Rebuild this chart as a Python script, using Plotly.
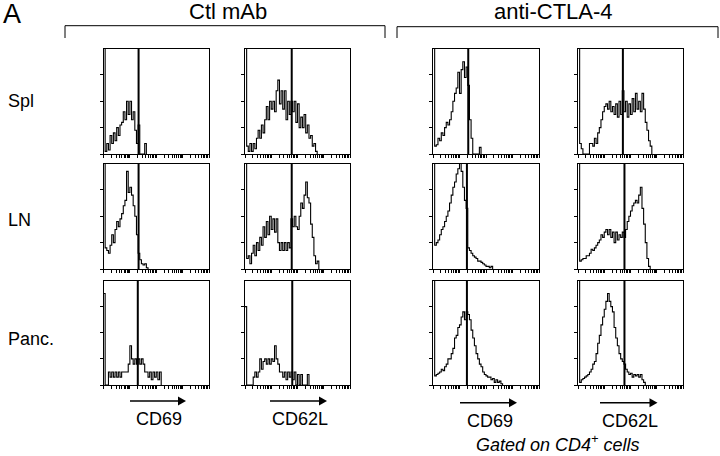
import numpy as np
import plotly.graph_objects as go

W, H = 720, 456
BIN = 0.0625  # decades per histogram channel (x axis spans 4 log decades)

# ---- histogram values (y axis 0..4 units), one list per panel ----
ctl_spl_cd69 = [5, 0.1, 0.4, 0.15, 0.7, 0.4, 0.8, 0.5, 1.0, 0.7, 1.1, 1.2, 1.6, 1.3, 2.0, 1.5,
                2.0, 1.3, 1.6, 0.9, 0.4, 1.1, 0, 0, 0, 0.4, 0]
ctl_spl_cd62l = [5, 0.3, 0.1, 0.4, 0.1, 0.4, 0.2, 0.6, 0.9, 0.6, 1.1, 0.8, 1.3, 1.8, 1.3, 2.0,
                 1.7, 2.0, 1.6, 2.4, 2.8, 1.9, 2.4, 1.7, 2.4, 1.3, 2.0, 1.5, 2.0, 1.6, 2.0, 1.2,
                 1.9, 1.0, 1.4, 1.0, 1.5, 0.8, 1.1, 0.6, 0.7, 0.3, 0.4, 0.1, 0]
anti_spl_cd69 = [5, 0.3, 0.35, 0.6, 0.5, 0.8, 0.7, 1.0, 1.2, 1.1, 1.3, 1.6, 2.0, 2.3, 2.5, 3.1,
                 2.3, 3.2, 3.5, 2.9, 3.3, 2.6, 1.3, 0.6, 0, 0, 0, 0, 0.25, 0]
anti_spl_cd62l = [5, 0.4, 0.2, 0, 0, 0, 0, 0.4, 0.4, 0.3, 0.6, 0.4, 0.8, 1.0, 1.3, 1.6, 1.8,
                  1.9, 1.7, 2.0, 1.6, 1.8, 1.5, 1.9, 1.4, 2.0, 1.5, 2.4, 1.6, 2.0, 1.4, 1.9,
                  1.5, 2.1, 1.6, 2.3, 1.7, 2.0, 1.6, 2.3, 1.7, 1.2, 0.9, 0.5, 0.3, 0]
ctl_ln_cd69 = [5, 0.8, 0.7, 0.6, 0.9, 1.3, 1.0, 1.5, 1.8, 1.6, 1.9, 2.1, 2.4, 2.6, 3.7, 2.9,
               3.1, 2.8, 2.4, 2.0, 1.3, 0.6, 0.35, 0.2, 0.15, 0.2, 0.05, 0]
ctl_ln_cd62l = [5, 0.4, 0.5, 0.2, 0.6, 0.9, 0.5, 1.0, 0.7, 1.2, 0.9, 1.6, 1.2, 1.8, 1.3, 2.0,
                1.5, 1.9, 1.4, 1.9, 1.0, 0.7, 1.0, 0.7, 1.0, 0.7, 1.0, 0.8, 1.9, 1.6, 2.0, 1.6,
                1.5, 2.0, 2.5, 2.3, 2.8, 3.3, 2.7, 2.5, 1.7, 1.2, 0.5, 0.2, 0.3, 0]
anti_ln_cd69 = [5, 0.9, 1.0, 1.1, 1.3, 1.5, 1.6, 1.8, 2.0, 2.2, 2.5, 2.8, 3.1, 3.3, 3.6, 3.8,
                4.0, 3.7, 3.1, 2.6, 2.3, 0.8, 0.7, 0.6, 0.5, 0.45, 0.4, 0.3, 0.3, 0.25, 0.2,
                0.15, 0.1, 0.1, 0.05, 0.1, 0]
anti_ln_cd62l = [5, 0.3, 0.35, 0.4, 0.4, 0.5, 0.5, 0.6, 0.75, 0.7, 0.8, 0.9, 1.0, 1.1, 1.3,
                 1.2, 1.4, 1.5, 1.3, 1.5, 1.2, 1.4, 1.0, 1.4, 1.1, 1.3, 1.2, 1.4, 1.2, 1.5, 1.8,
                 2.0, 2.2, 2.4, 2.5, 2.6, 2.5, 2.8, 3.1, 2.3, 1.7, 1.0, 0.4, 0.1, 0]
ctl_panc_cd69 = [3.5, 0, 0, 0.5, 0.3, 0.5, 0.3, 0.5, 0.3, 0.5, 0.3, 0.5, 0.5, 0.5, 0.5, 0.8,
                 1.5, 1.0, 0.8, 1.0, 0.8, 1.0, 0.8, 1.0, 0.8, 0.5, 0.5, 0.3, 0.5, 0.2, 0.5, 0.3,
                 0.5, 0.2, 0.5, 0]
ctl_panc_cd62l = [3.0, 0, 0, 0, 0, 0.3, 0.5, 0.3, 0.5, 1.0, 0.6, 0.9, 1.0, 0.8, 1.0, 0.8, 1.0,
                  0.9, 1.5, 1.0, 0.8, 0.5, 0.5, 0.3, 0.5, 0.2, 0.5, 0.3, 0.5, 0.2, 0.5, 0.0,
                  0.4, 0.0, 0.4, 0, 0, 0, 0.4, 0]
anti_panc_cd69 = [5, 0.35, 0.4, 0.45, 0.5, 0.6, 0.55, 0.7, 0.8, 1.0, 1.0, 1.2, 1.4, 1.8, 1.9,
                  2.2, 2.3, 2.6, 2.8, 2.5, 2.8, 2.7, 2.5, 2.1, 1.8, 1.5, 1.2, 1.0, 0.8, 0.7,
                  0.5, 0.4, 0.35, 0.3, 0.3, 0.2, 0.25, 0.1, 0.2, 0.1, 0.15, 0.05, 0]
anti_panc_cd62l = [5, 0.1, 0.2, 0.25, 0.3, 0.35, 0.4, 0.5, 0.6, 0.8, 0.9, 1.2, 1.6, 1.9, 2.3,
                   2.6, 2.9, 3.2, 3.5, 3.2, 3.0, 2.8, 2.2, 1.8, 1.5, 1.2, 1.0, 0.9, 0.8, 0.6,
                   0.5, 0.4, 0.45, 0.3, 0.4, 0.35, 0.4, 0.3, 0.4, 0.2, 0.1, 0]

# gate (marker) positions in decades, per row, per column
gates = [[1.33, 1.78, 1.33, 1.71],
         [1.33, 1.78, 1.28, 1.77],
         [1.30, 1.80, 1.28, 1.77]]

panels = [[ctl_spl_cd69, ctl_spl_cd62l, anti_spl_cd69, anti_spl_cd62l],
          [ctl_ln_cd69, ctl_ln_cd62l, anti_ln_cd69, anti_ln_cd62l],
          [ctl_panc_cd69, ctl_panc_cd62l, anti_panc_cd69, anti_panc_cd62l]]

row_labels = ["Spl", "LN", "Panc."]
col_markers = ["CD69", "CD62L", "CD69", "CD62L"]
groups = ["Ctl mAb", "anti-CTLA-4"]

# ---- layout geometry (pixels) ----
col_px = [(103.5, 209), (245, 350), (433, 539), (578, 683)]
row_px = [(48.5, 154), (163.5, 269), (280.5, 385)]

def px(x):
    return x / W

def py(y):
    return 1 - y / H

log_ticks = [float(np.log10(m * 10 ** d)) for d in range(4) for m in range(1, 10)] + [4.0]

FONT = "Liberation Sans, Arial, sans-serif"
fig = go.Figure()
layout = dict(width=W, height=H, margin=dict(l=0, r=0, t=0, b=0),
              paper_bgcolor="white", plot_bgcolor="white", showlegend=False,
              font=dict(family=FONT, color="black"))
shapes = []
annotations = []

for r in range(3):
    for c in range(4):
        idx = r * 4 + c + 1
        sfx = "" if idx == 1 else str(idx)
        vals = panels[r][c]
        x = np.arange(len(vals)) * BIN
        fig.add_trace(go.Scatter(x=x, y=vals, mode="lines",
                                 line=dict(color="black", width=1.1, shape="hv"),
                                 xaxis="x" + sfx, yaxis="y" + sfx, hoverinfo="skip"))
        x0, x1 = col_px[c]
        y0, y1 = row_px[r]
        layout["xaxis" + sfx] = dict(domain=[px(x0), px(x1)], range=[0, 4], anchor="y" + sfx,
                                     showline=True, mirror=True, linecolor="black", linewidth=1,
                                     ticks="outside", ticklen=3, tickwidth=1, tickcolor="black",
                                     tickvals=log_ticks, showticklabels=False,
                                     showgrid=False, zeroline=False, fixedrange=True)
        layout["yaxis" + sfx] = dict(domain=[py(y1), py(y0)], range=[0, 4], anchor="x" + sfx,
                                     showline=True, mirror=True, linecolor="black", linewidth=1,
                                     ticks="outside", ticklen=3, tickwidth=1, tickcolor="black",
                                     tickvals=[0, 1, 2, 3], showticklabels=False,
                                     showgrid=False, zeroline=False, fixedrange=True)
        g = gates[r][c]
        shapes.append(dict(type="line", xref="x" + sfx, yref="y" + sfx, x0=g, x1=g, y0=0, y1=4,
                           line=dict(color="black", width=2)))

# group brackets
for (xa, xb, yl), name, tx in [((65, 385, 25.7), groups[0], 228), ((397, 718, 26.7), groups[1], 553)]:
    shapes.append(dict(type="path", xref="paper", yref="paper",
                       path=f"M {px(xa)},{py(38)} L {px(xa)},{py(yl)} L {px(xb)},{py(yl)} L {px(xb)},{py(38)}",
                       line=dict(color="black", width=1)))
    annotations.append(dict(text=name, x=px(tx), y=py(12), xref="paper", yref="paper",
                            showarrow=False, xanchor="center", yanchor="middle",
                            font=dict(size=22, family=FONT)))

annotations.append(dict(text="A", x=px(1), y=py(14), xref="paper", yref="paper",
                        showarrow=False, xanchor="left", yanchor="middle",
                        font=dict(size=27, family=FONT)))

for lab, yc in zip(row_labels, [101, 220, 338.5]):
    annotations.append(dict(text=lab, x=px(6), y=py(yc), xref="paper", yref="paper",
                            showarrow=False, xanchor="left", yanchor="middle",
                            font=dict(size=18, family=FONT)))

arrows = [(130, 186, 401), (270, 327, 401), (460, 517, 402.7), (600, 657.5, 402.7)]
for (a0, a1, ay), lab in zip(arrows, col_markers):
    shapes.append(dict(type="line", xref="paper", yref="paper", x0=px(a0), x1=px(a1 - 6),
                       y0=py(ay), y1=py(ay), line=dict(color="black", width=1.5)))
    shapes.append(dict(type="path", xref="paper", yref="paper",
                       path=f"M {px(a1)},{py(ay)} L {px(a1 - 8)},{py(ay - 4.5)} L {px(a1 - 8)},{py(ay + 4.5)} Z",
                       fillcolor="black", line=dict(color="black", width=0)))
    annotations.append(dict(text=lab, x=px((a0 + a1) / 2 + 1), y=py(ay + 18), xref="paper", yref="paper",
                            showarrow=False, xanchor="center", yanchor="middle",
                            font=dict(size=18, family=FONT)))

annotations.append(dict(text="<i>Gated on CD4<sup>+</sup> cells</i>", x=px(557), y=0,
                        xref="paper", yref="paper", showarrow=False, xanchor="center",
                        yanchor="bottom", yshift=-1, font=dict(size=18, family=FONT)))

layout["shapes"] = shapes
layout["annotations"] = annotations
fig.update_layout(**layout)
fig.write_html("out.html", config={"displayModeBar": False, "staticPlot": True},
               post_script="document.body.style.margin='0';document.body.style.overflow='hidden';")
